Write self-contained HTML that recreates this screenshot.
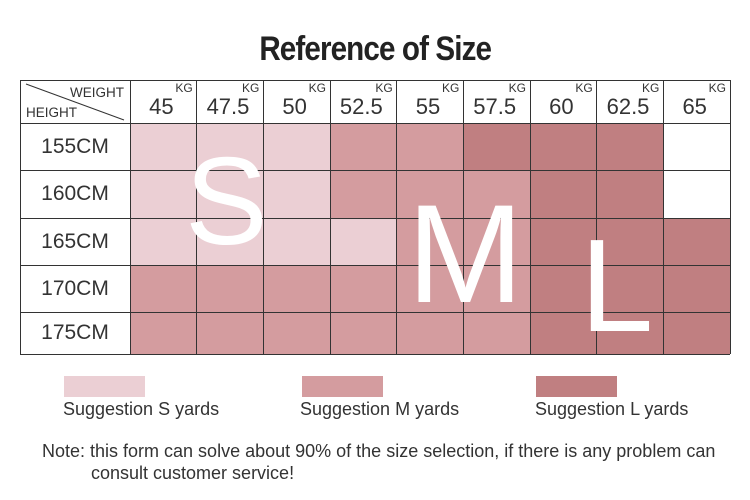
<!DOCTYPE html>
<html><head><meta charset="utf-8"><style>
body{margin:0;width:750px;height:500px;background:#fff;position:relative;overflow:hidden;font-family:"Liberation Sans",sans-serif;color:#333}
.a{position:absolute;white-space:nowrap}
.c{position:absolute;box-sizing:border-box}
.big{position:absolute;color:#fff;font-family:"Liberation Sans",sans-serif;line-height:1}
</style></head><body>
<div class="a" style="left:0;width:750px;top:30px;text-align:center;font-size:34px;font-weight:bold;color:#222;letter-spacing:-1px"><span style="display:inline-block;transform:scaleX(0.87)">Reference of Size</span></div>
<div id="grid"></div>
<script>
var S='#ebcfd4',M='#d49c9f',L='#c07f81',W='#fff';
var rows=[[S,S,S,M,M,L,L,L,W],[S,S,S,M,M,M,L,L,W],[S,S,S,S,M,M,L,L,L],[M,M,M,M,M,M,L,L,L],[M,M,M,M,M,M,L,L,L]];
var ys=[80,123,170,218,265,312,354];
var xs=[20,130];for(var i=1;i<=9;i++)xs.push(130+i*66.67);
var h='';
var kg=['45','47.5','50','52.5','55','57.5','60','62.5','65'];
for(var c=0;c<9;c++){var x=xs[c+1],w=xs[c+2]-x;
h+='<div class="c" style="left:'+x+'px;top:80px;width:'+w+'px;height:43px"><span class="a" style="right:4px;top:1px;font-size:12px">KG</span><span class="a" style="left:0;width:'+(w-4)+'px;text-align:center;top:14px;font-size:22px">'+kg[c]+'</span></div>';}
var hs=['155CM','160CM','165CM','170CM','175CM'];
for(var r=0;r<5;r++){var y=ys[r+1],hh=ys[r+2]-y;
h+='<div class="c" style="left:20px;top:'+y+'px;width:110px;height:'+hh+'px;line-height:'+hh+'px;text-align:center;font-size:21px">'+hs[r]+'</div>';
for(var c=0;c<9;c++){h+='<div class="c" style="left:'+xs[c+1]+'px;top:'+y+'px;width:'+(xs[c+2]-xs[c+1])+'px;height:'+hh+'px;background:'+rows[r][c]+'"></div>';}}
for(var i=0;i<ys.length;i++)h+='<div class="c" style="left:20px;top:'+(ys[i]-0.5)+'px;width:710px;height:1.3px;background:#333"></div>';
for(var i=0;i<xs.length;i++)h+='<div class="c" style="left:'+(xs[i]-0.5)+'px;top:80px;width:1.3px;height:274px;background:#333"></div>';
h+='<svg class="a" style="left:20px;top:80px" width="110" height="43"><line x1="6" y1="4" x2="104" y2="40" stroke="#333" stroke-width="1"/></svg>';
h+='<span class="a" style="left:70px;top:85px;font-size:13.5px">WEIGHT</span><span class="a" style="left:26px;top:105px;font-size:13.5px">HEIGHT</span>';
h+='<div class="big" style="left:185px;top:140px;font-size:124px">S</div>';
h+='<div class="big" style="left:407px;top:184px;font-size:140px">M</div>';
h+='<div class="big" style="left:580px;top:220px;font-size:132px">L</div>';
document.getElementById('grid').innerHTML=h;
</script>
<div class="c" style="left:64px;top:376px;width:81px;height:21px;background:#ebcfd4"></div>
<div class="c" style="left:302px;top:376px;width:81px;height:21px;background:#d49c9f"></div>
<div class="c" style="left:536px;top:376px;width:81px;height:21px;background:#c07f81"></div>
<div class="a" style="left:63px;top:399px;font-size:18px">Suggestion S yards</div>
<div class="a" style="left:300px;top:399px;font-size:18px">Suggestion M yards</div>
<div class="a" style="left:535px;top:399px;font-size:18px">Suggestion L yards</div>
<div class="a" style="left:42px;top:440px;font-size:18px;line-height:22px">Note: this form can solve about 90% of the size selection, if there is any problem can<br><span style="padding-left:49px">consult customer service!</span></div>
</body></html>
